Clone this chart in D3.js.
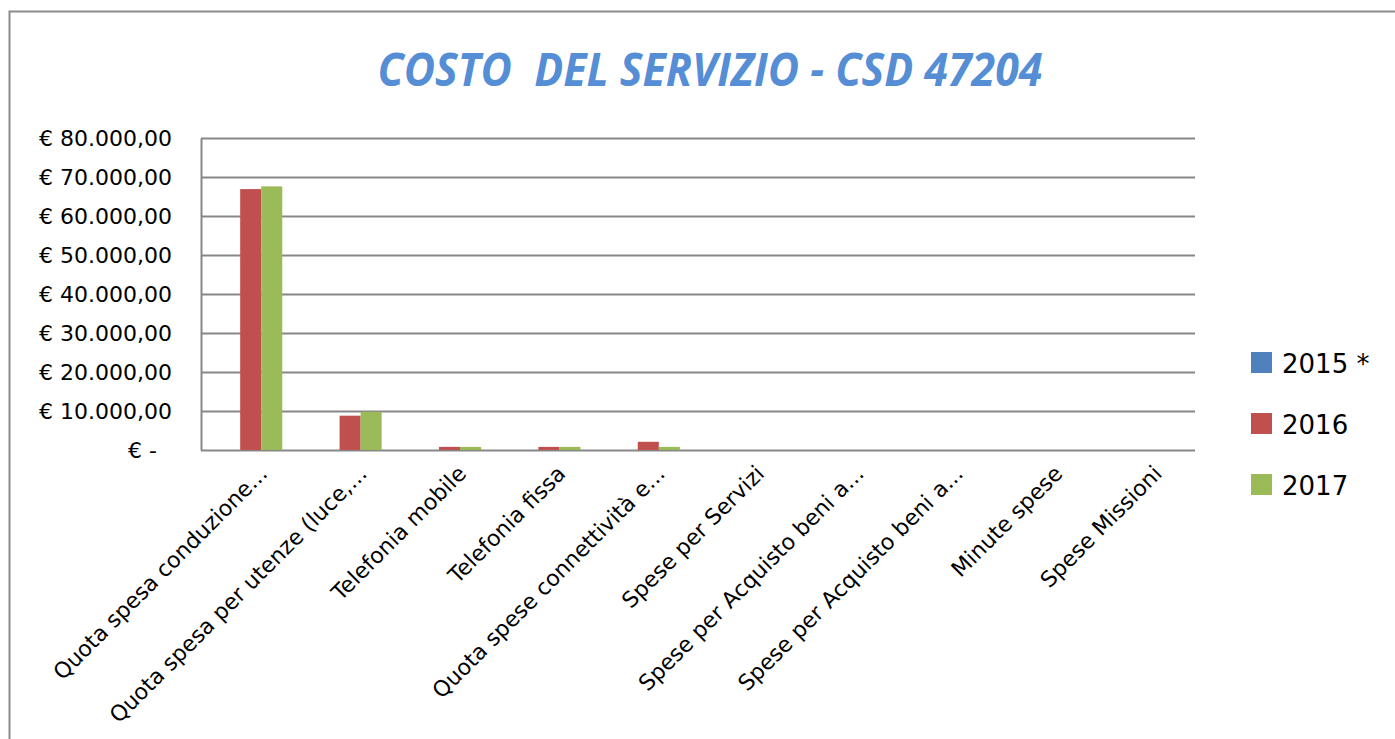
<!DOCTYPE html>
<html>
<head>
<meta charset="utf-8">
<script src="https://cdn.jsdelivr.net/npm/d3@7"></script>
<style>
  body { margin: 0; background: #fff; }
  svg { display: block; font-family: "DejaVu Sans", Verdana, sans-serif; }
</style>
</head>
<body>
<div id="chart"></div>
<script>
// data
const categories = [
  "Quota spesa conduzione...",
  "Quota spesa per utenze (luce,...",
  "Telefonia mobile",
  "Telefonia fissa",
  "Quota spese connettività e...",
  "Spese per Servizi",
  "Spese per Acquisto beni a...",
  "Spese per Acquisto beni a... ",
  "Minute spese",
  "Spese Missioni"
];
const seriesNames = ["2015 *", "2016", "2017"];
const values2015 = [0, 0, 0, 0, 0, 0, 0, 0, 0, 0];
const values2016 = [66900, 8800, 800, 800, 2100, 0, 0, 0, 0, 0];
const values2017 = [67600, 9800, 800, 800, 800, 0, 0, 0, 0, 0];
const yTicks = [0, 10000, 20000, 30000, 40000, 50000, 60000, 70000, 80000];
const colors = ["#4f81bd", "#c0504d", "#9bbb59"];

const allValues = [values2015, values2016, values2017];

const width = 1395;
const height = 739;
const margin = {top: 138, left: 201, right: 200, bottom: 289};

const svg = d3.select("#chart")
    .append("svg")
    .attr("width", width)
    .attr("height", height);

// outer chart border
svg.append("rect")
    .attr("x", 9.5)
    .attr("y", 11.5)
    .attr("width", 1500)
    .attr("height", 900)
    .attr("fill", "none")
    .attr("stroke", "#8c8c8c")
    .attr("stroke-width", 2);

// title
svg.append("text")
    .attr("x", 710)
    .attr("y", 86)
    .attr("text-anchor", "middle")
    .attr("font-family", "'Open Sans', sans-serif")
    .attr("font-size", 46)
    .attr("font-weight", "bold")
    .attr("font-style", "italic")
    .attr("fill", "#558ed5")
    .attr("textLength", 665)
    .attr("lengthAdjust", "spacingAndGlyphs")
    .style("white-space", "pre")
    .text("COSTO  DEL SERVIZIO - CSD 47204");

const xScale = d3.scaleBand()
    .domain(categories)
    .range([margin.left, width - margin.right]);

const groupWidth = xScale.bandwidth() * 0.635;
const xInner = d3.scaleBand()
    .domain(seriesNames)
    .range([(xScale.bandwidth() - groupWidth) / 2, (xScale.bandwidth() + groupWidth) / 2]);

const yScale = d3.scaleLinear()
    .domain([0, 80000])
    .range([height - margin.bottom, margin.top]);

const locale = d3.formatLocale({decimal: ",", thousands: ".", grouping: [3], currency: ["€ ", ""]});
const fmt = locale.format(",.2f");

// y axis + gridlines
const yAxis = svg.append("g")
    .attr("transform", `translate(${margin.left},0)`)
    .call(d3.axisLeft(yScale)
        .tickValues(yTicks)
        .tickSize(-(width - margin.left - margin.right))
        .tickSizeOuter(0)
        .tickPadding(29)
        .tickFormat(d => d === 0 ? "€ -" : "€ " + fmt(d)));

yAxis.select(".domain").attr("stroke", "#878787").attr("stroke-width", 2);
yAxis.selectAll(".tick line").attr("stroke", "#878787").attr("stroke-width", 2);
yAxis.selectAll(".tick text")
    .attr("font-size", 22)
    .attr("fill", "#000")
    .attr("font-family", "DejaVu Sans, Verdana, sans-serif")
    .attr("dx", d => d === 0 ? -15 : 0);

// bars
const groups = svg.selectAll(".group")
    .data(categories)
    .enter()
    .append("g")
        .attr("class", "group")
        .attr("transform", d => `translate(${xScale(d)},0)`);

groups.selectAll("rect")
    .data((d, i) => seriesNames.map((s, j) => ({series: s, value: allValues[j][i], color: colors[j]})))
    .enter()
    .append("rect")
        .attr("x", d => xInner(d.series))
        .attr("y", d => yScale(d.value))
        .attr("width", xInner.bandwidth())
        .attr("height", d => yScale(0) - yScale(d.value))
        .attr("fill", d => d.color);

// x labels
svg.selectAll(".xlabel")
    .data(categories)
    .enter()
    .append("text")
        .attr("class", "xlabel")
        .attr("text-anchor", "end")
        .attr("font-size", 22)
        .attr("transform", d => `translate(${xScale(d) + xScale.bandwidth() / 2 + 18},${height - margin.bottom + 25}) rotate(-45)`)
        .text(d => d.trim());

// legend
const legend = svg.selectAll(".legend")
    .data(seriesNames)
    .enter()
    .append("g")
        .attr("class", "legend")
        .attr("transform", (d, i) => `translate(1251,${352 + i * 61})`);

legend.append("rect")
    .attr("width", 21)
    .attr("height", 21)
    .attr("fill", (d, i) => colors[i]);

legend.append("text")
    .attr("x", 31)
    .attr("y", 21)
    .attr("font-size", 26)
    .text(d => d);
</script>
</body>
</html>
